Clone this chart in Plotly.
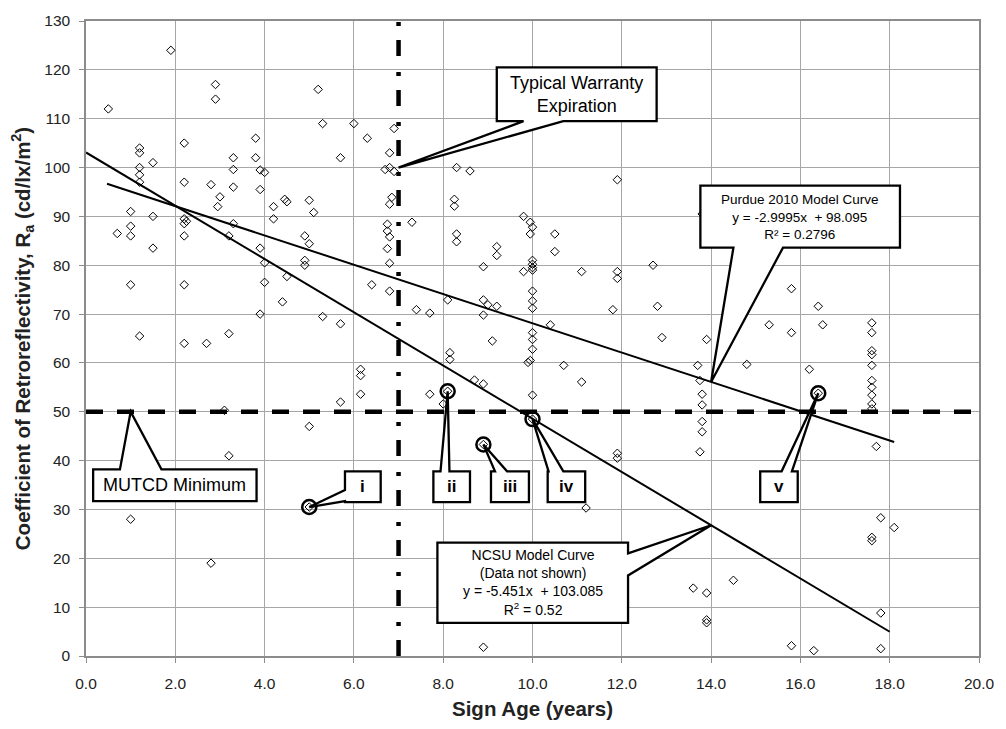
import plotly.graph_objects as go

# Sign age (years) and measured retroreflectivity Ra (cd/lx/m^2)
sign_age = [
    0.5, 1.9, 2.9, 2.9, 5.2, 5.3, 2.2, 1.2, 1.2, 1.2, 1.2, 1.2, 1.5, 2.2, 2.8,
    3.3, 3.3, 3.3, 3.8, 3.8, 3.9, 4.0, 3.9, 3.0, 2.95, 3.3, 1.0, 1.0, 1.5, 2.2,
    2.25, 2.2, 0.7, 1.0, 2.2, 4.2, 4.2, 4.45, 4.5, 5.0, 5.1, 5.7, 4.9, 3.2,
    1.5, 1.0, 2.2, 1.2, 2.2, 2.7, 3.2, 3.9, 4.0, 4.0, 3.9, 4.4, 4.5, 5.0, 4.9,
    4.9, 5.3, 5.7, 3.1, 5.0, 3.2, 1.0, 2.8,
    6.0, 6.3, 6.9, 6.8, 6.7, 6.8, 6.9, 8.3, 8.6, 11.9, 6.85, 6.8, 8.25, 8.25,
    6.75, 6.75, 6.8, 7.3, 8.3, 9.8, 9.95, 10.0, 9.95, 10.5,
    8.3, 6.75, 6.8, 9.2, 9.2, 10.5, 10.0, 10.0, 10.0, 10.0, 9.8, 8.9, 11.1,
    11.9, 11.9, 6.4, 6.8, 7.4, 7.7, 8.1, 8.9, 9.0, 9.2, 8.9, 10.0, 10.0, 10.0,
    11.8, 10.4, 9.1, 10.0, 10.0, 10.0, 9.95, 9.9, 10.7, 11.1, 6.15, 6.15, 6.15,
    5.7, 8.15, 8.15, 8.7, 8.9, 7.7, 8.0, 10.0, 11.9, 11.9, 11.2, 8.9,
    12.7, 12.8, 12.9, 15.8, 16.4, 16.5, 15.3, 15.8, 13.9, 13.7, 14.8, 16.2,
    13.75, 13.8, 13.8, 13.8, 13.8, 13.75, 17.6, 17.6, 17.6, 17.6, 17.6, 17.6,
    17.6, 17.6, 17.6, 17.6, 17.7, 13.8,
    17.8, 18.1, 17.6, 17.6, 14.5, 13.6, 13.9, 13.9, 13.9, 17.8, 15.8, 16.3, 17.8,
]
retro_ra = [
    112, 124, 117, 114, 116, 109, 105, 104, 103, 100, 98.5, 97, 101, 97, 96.5,
    102, 99.6, 96, 106, 102, 99.5, 99, 95.5, 94, 92, 88.5, 91, 88, 90, 89.5,
    89, 88.5, 86.5, 86, 86, 92, 89.5, 93.5, 93, 93.3, 90.8, 102, 86, 86,
    83.5, 76, 76, 65.5, 64, 64, 66, 83.5, 80.5, 76.5, 70, 72.5, 77.7, 84.4, 81,
    80, 69.5, 68, 50.3, 47, 41, 28, 19,
    109, 106, 108, 103, 99.6, 100, 99.2, 100, 99.3, 97.5, 93.9, 92.5, 93.5, 92.1,
    88.4, 87, 85.8, 88.8, 86.4, 90, 88.8, 87.8, 86.4, 86.4,
    84.8, 83.4, 80.4, 83.8, 82, 82.8, 81, 80.2, 79.5, 79, 78.7, 79.7, 78.7,
    78.7, 77.3, 76, 74.7, 70.9, 70.2, 72.9, 72.9, 71.9, 71.6, 69.8, 74.7, 72.7, 71.2,
    70.9, 67.8, 64.5, 66.2, 64.8, 62.8, 60.5, 60.1, 59.5, 56.1, 58.7, 57.4, 53.6,
    52, 62.1, 60.7, 56.5, 55.7, 53.6, 51.6, 53.4, 41.5, 40.5, 30.3, 1.8,
    80, 71.6, 65.2, 75.2, 71.6, 67.8, 67.8, 66.2, 64.8, 59.5, 59.7, 58.7,
    56.4, 53.6, 51.4, 48, 45.9, 41.8, 68.2, 66.2, 62.5, 61.7, 59.5, 56.4,
    55, 53.4, 51.6, 50.6, 42.9, 90.5,
    28.3, 26.3, 24.3, 23.6, 15.5, 13.9, 12.9, 7.4, 6.8, 8.8, 2.1, 1.1, 1.5,
]

# Highlighted signs (circled and labelled)
hl_age = [5.0, 8.1, 8.9, 10.0, 16.4]
hl_ra = [30.5, 54.2, 43.3, 48.5, 53.8]
hl_labels = ["i", "ii", "iii", "iv", "v"]

# Model curves: Ra = slope * age + intercept
purdue_slope, purdue_intercept = -2.9995, 98.095
purdue_x = [0.47, 18.1]
ncsu_slope, ncsu_intercept = -5.451, 103.085
ncsu_x = [0.0, 18.0]

# Reference levels
MUTCD_MIN = 50
WARRANTY_YEARS = 7

x_ticks = [0, 2, 4, 6, 8, 10, 12, 14, 16, 18, 20]
y_ticks = list(range(0, 131, 10))

FONT = "Arial, Liberation Sans, sans-serif"

fig = go.Figure()

fig.add_trace(go.Scatter(
    x=[0, 20], y=[MUTCD_MIN, MUTCD_MIN], mode="lines",
    line=dict(color="black", width=4.5, dash="17px,14px"), hoverinfo="skip"))
fig.add_trace(go.Scatter(
    x=[WARRANTY_YEARS, WARRANTY_YEARS], y=[0, 130], mode="lines",
    line=dict(color="black", width=4.5, dash="16px,14px,4px,16px"), hoverinfo="skip"))

fig.add_trace(go.Scatter(
    x=sign_age + hl_age, y=retro_ra + hl_ra, mode="markers",
    marker=dict(symbol="diamond-open", size=6.5, color="black", line=dict(width=1))))
fig.add_trace(go.Scatter(
    x=hl_age, y=hl_ra, mode="markers",
    marker=dict(symbol="circle-open", size=14, color="black", line=dict(width=2.5))))

fig.add_trace(go.Scatter(
    x=purdue_x, y=[purdue_slope * v + purdue_intercept for v in purdue_x],
    mode="lines", line=dict(color="black", width=2)))
fig.add_trace(go.Scatter(
    x=ncsu_x, y=[ncsu_slope * v + ncsu_intercept for v in ncsu_x],
    mode="lines", line=dict(color="black", width=2)))


def callout(x0, x1, y0, y1, side, b0, b1, tip):
    """Rectangle outline with a pointer wedge on one side, as an SVG path."""
    tx, ty = tip
    if side == "bottom":
        pts = [(x0, y1), (x1, y1), (x1, y0), (b1, y0), (tx, ty), (b0, y0), (x0, y0)]
    elif side == "top":
        pts = [(x0, y0), (x0, y1), (b0, y1), (tx, ty), (b1, y1), (x1, y1), (x1, y0)]
    elif side == "right":
        pts = [(x0, y0), (x0, y1), (x1, y1), (x1, b1), (tx, ty), (x1, b0), (x1, y0)]
    else:
        pts = [(x0, y0), (x1, y0), (x1, y1), (x0, y1), (x0, b1), (tx, ty), (x0, b0)]
    return "M " + " L ".join(f"{px},{py}" for px, py in pts) + " Z"


def add_callout(x0, x1, y0, y1, side, b0, b1, tip, text, size):
    fig.add_shape(type="path", xref="x", yref="y",
                  path=callout(x0, x1, y0, y1, side, b0, b1, tip),
                  fillcolor="white", line=dict(color="black", width=2.3))
    fig.add_annotation(x=(x0 + x1) / 2, y=(y0 + y1) / 2, text=text, showarrow=False,
                       font=dict(family=FONT, size=size, color="black"),
                       xanchor="center", yanchor="middle", align="center")


ncsu_tip = (14.0, ncsu_slope * 14.0 + ncsu_intercept)
purdue_tip = (14.0, purdue_slope * 14.0 + purdue_intercept)

add_callout(9.20, 12.78, 109.5, 120.5, "bottom", 9.80, 10.69, (WARRANTY_YEARS, 100),
            "Typical Warranty<br>Expiration", 18)
add_callout(13.76, 18.23, 83.6, 96.3, "bottom", 14.50, 15.61, purdue_tip,
            "Purdue 2010 Model Curve<br>y = -2.9995x  + 98.095<br>R² = 0.2796", 13.5)
add_callout(7.87, 12.14, 6.8, 23.2, "right", 16.5, 21.0, ncsu_tip,
            "NCSU Model Curve<br>(Data not shown)<br>y = -5.451x  + 103.085<br>R<sup>2</sup> = 0.52", 14)
add_callout(0.16, 3.82, 31.7, 38.2, "top", 0.76, 1.69, (1.0, MUTCD_MIN),
            "MUTCD Minimum", 18)

label_boxes = [
    (5.80, 6.60, "left", 31.7, 34.0),
    (7.78, 8.60, "top", 7.94, 8.14),
    (9.07, 9.92, "top", 9.16, 9.43),
    (10.34, 11.18, "top", 10.36, 10.69),
    (15.10, 15.94, "top", 15.58, 15.81),
]
for (bx0, bx1, side, b0, b1), ax, ay, lab in zip(label_boxes, hl_age, hl_ra, hl_labels):
    add_callout(bx0, bx1, 31.5, 37.8, side, b0, b1, (ax, ay), f"<b>{lab}</b>", 17)

axis_common = dict(
    showgrid=True, gridcolor="#a6a6a6", gridwidth=1,
    showline=True, linecolor="#8c8c8c", linewidth=1.5, mirror=True,
    ticks="outside", tickcolor="#8c8c8c", ticklen=5,
    tickfont=dict(family=FONT, size=15.5, color="#222222"),
    zeroline=False,
)

fig.update_layout(
    width=1006, height=729,
    margin=dict(l=86, r=20, t=15, b=72),
    paper_bgcolor="white", plot_bgcolor="white",
    showlegend=False,
    font=dict(family=FONT, color="black"),
    xaxis=dict(
        range=[0, 20], tickvals=x_ticks, ticktext=[f"{v:.1f}" for v in x_ticks],
        title=dict(text="<b>Sign Age (years)</b>", font=dict(family=FONT, size=20.5, color="#222222"),
                   standoff=10),
        ticklabelstandoff=8,
        **axis_common),
    yaxis=dict(
        range=[0, 130], tickvals=y_ticks,
        title=dict(text="<b>Coefficient of Retroreflectivity, R<sub>a</sub> (cd/lx/m<sup>2</sup>)</b>",
                   font=dict(family=FONT, size=20.5, color="#222222"), standoff=8),
        ticklabelstandoff=6,
        **axis_common),
)

fig.write_html("out.html")
